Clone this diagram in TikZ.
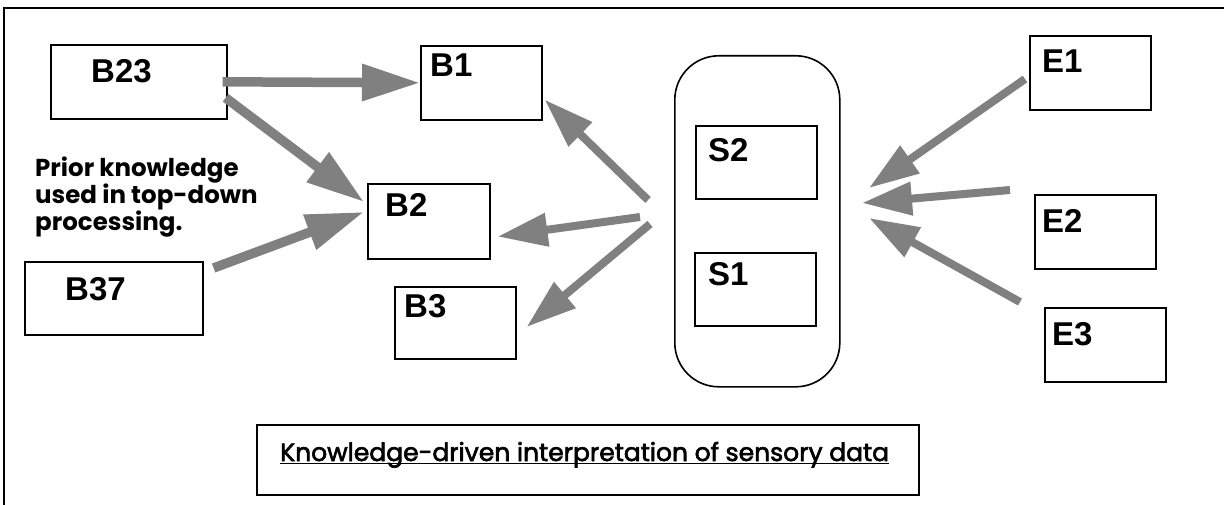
\documentclass[tikz,border=0pt]{standalone}
\usepackage{fontspec}
\setmainfont{Liberation Sans}
\newfontfamily\gothic{Poppins}
\newfontfamily\gothicmed[FakeBold=2.5]{Poppins}
\usetikzlibrary{arrows.meta}
\definecolor{arrowgray}{HTML}{808080}
\begin{document}
\begin{tikzpicture}[x=1pt,y=-1pt,
  box/.style={draw,line width=1.6pt,inner sep=0pt,anchor=north west},
  lbl/.style={anchor=base west,inner sep=0pt,font=\bfseries\fontsize{33}{36}\selectfont},
  bigflow/.style={draw=arrowgray,line width=9.5pt,-{Triangle[length=58pt,width=35pt,fill=arrowgray]}},
  flow/.style={draw=arrowgray,line width=8pt,-{Triangle[length=50pt,width=32pt,fill=arrowgray]}}]
\useasboundingbox (0,0) rectangle (1224,505);

% outer frame (top and left edges)
\draw[line width=2pt] (4,505) -- (4,8) -- (1224,8);

% belief boxes
\node[box,minimum width=176pt,minimum height=74pt] (b23) at (50,44) {};
\node[box,minimum width=121pt,minimum height=74pt] (b1) at (420,45) {};
\node[box,minimum width=122pt,minimum height=75pt] (b2) at (367,183) {};
\node[box,minimum width=178pt,minimum height=73pt] (b37) at (24,261) {};
\node[box,minimum width=121pt,minimum height=72pt] (b3) at (394,286) {};

% sensory container with its two states
\node[box,minimum width=165pt,minimum height=331pt,rounded corners=44pt] (sens) at (674,55) {};
\node[box,minimum width=121pt,minimum height=73pt] (s2) at (695,125) {};
\node[box,minimum width=121pt,minimum height=73pt] (s1) at (694,252) {};

% evidence boxes
\node[box,minimum width=121pt,minimum height=74pt] (e1) at (1029,35) {};
\node[box,minimum width=121pt,minimum height=74pt] (e2) at (1034,194) {};
\node[box,minimum width=121pt,minimum height=74pt] (e3) at (1044,307) {};

% caption box
\node[box,minimum width=662pt,minimum height=70pt] (capbox) at (256,424) {};

% box labels
\node[lbl] (tb23) at (91,83) {B23};
\node[lbl] (tb1) at (430,77) {B1};
\node[lbl] (tb2) at (385,217) {B2};
\node[lbl] (tb37) at (65,300) {B37};
\node[lbl] (tb3) at (404,317) {B3};
\node[lbl] (ts2) at (708,162) {S2};
\node[lbl] (ts1) at (708,285) {S1};
\node[lbl] (te1) at (1042,73) {E1};
\node[lbl] (te2) at (1042,233) {E2};
\node[lbl] (te3) at (1052,345) {E3};

% side note (anchored on the baseline of its last line)
\node[anchor=base west,inner sep=0pt,align=left,
      font=\gothic\bfseries\fontsize{24.5}{25.5}\selectfont] (note) at (35,231)
  {Prior knowledge\\used in top-down\\processing.};

% caption text, underlined
\node[anchor=base west,inner sep=0pt,font=\gothicmed\fontsize{25}{30}\selectfont] (cap) at (280,461)
  {Knowledge-driven interpretation of sensory data};
\draw[line width=1.8pt] ([yshift=-2.5pt]cap.base west) -- ([yshift=-2.5pt]cap.base east);

% free ends of the connectors next to the sensory container
\coordinate (lb1) at (648,200);
\coordinate (lb2) at (640,217);
\coordinate (lb3) at (650,224);
\coordinate (re1) at (869,188);
\coordinate (re2) at (862,203);
\coordinate (re3) at (869,218);

% top-down connectors
\draw[bigflow] ([xshift=-5pt]b23.east) -- (b1.west);
\draw[bigflow] ([shift={(-2,16)}]b23.east) -- ([shift={(-3,19)}]b2.north west);
\draw[bigflow] ([shift={(10,7)}]b37.north east) -- ([shift={(-3,29)}]b2.north west);

% container to beliefs
\draw[flow] (lb1) -- ([shift={(2,-21)}]b1.south east);
\draw[flow] (lb2) -- ([shift={(7,-23)}]b2.south east);
\draw[flow] (lb3) -- ([shift={(10,41)}]b3.north east);

% evidence to container
\draw[flow] ([shift={(-4,44)}]e1.north west) -- (re1);
\draw[flow] ([shift={(-24,-4)}]e2.north west) -- (re2);
\draw[flow] ([shift={(-24,-5)}]e3.north west) -- (re3);
\end{tikzpicture}
\end{document}
